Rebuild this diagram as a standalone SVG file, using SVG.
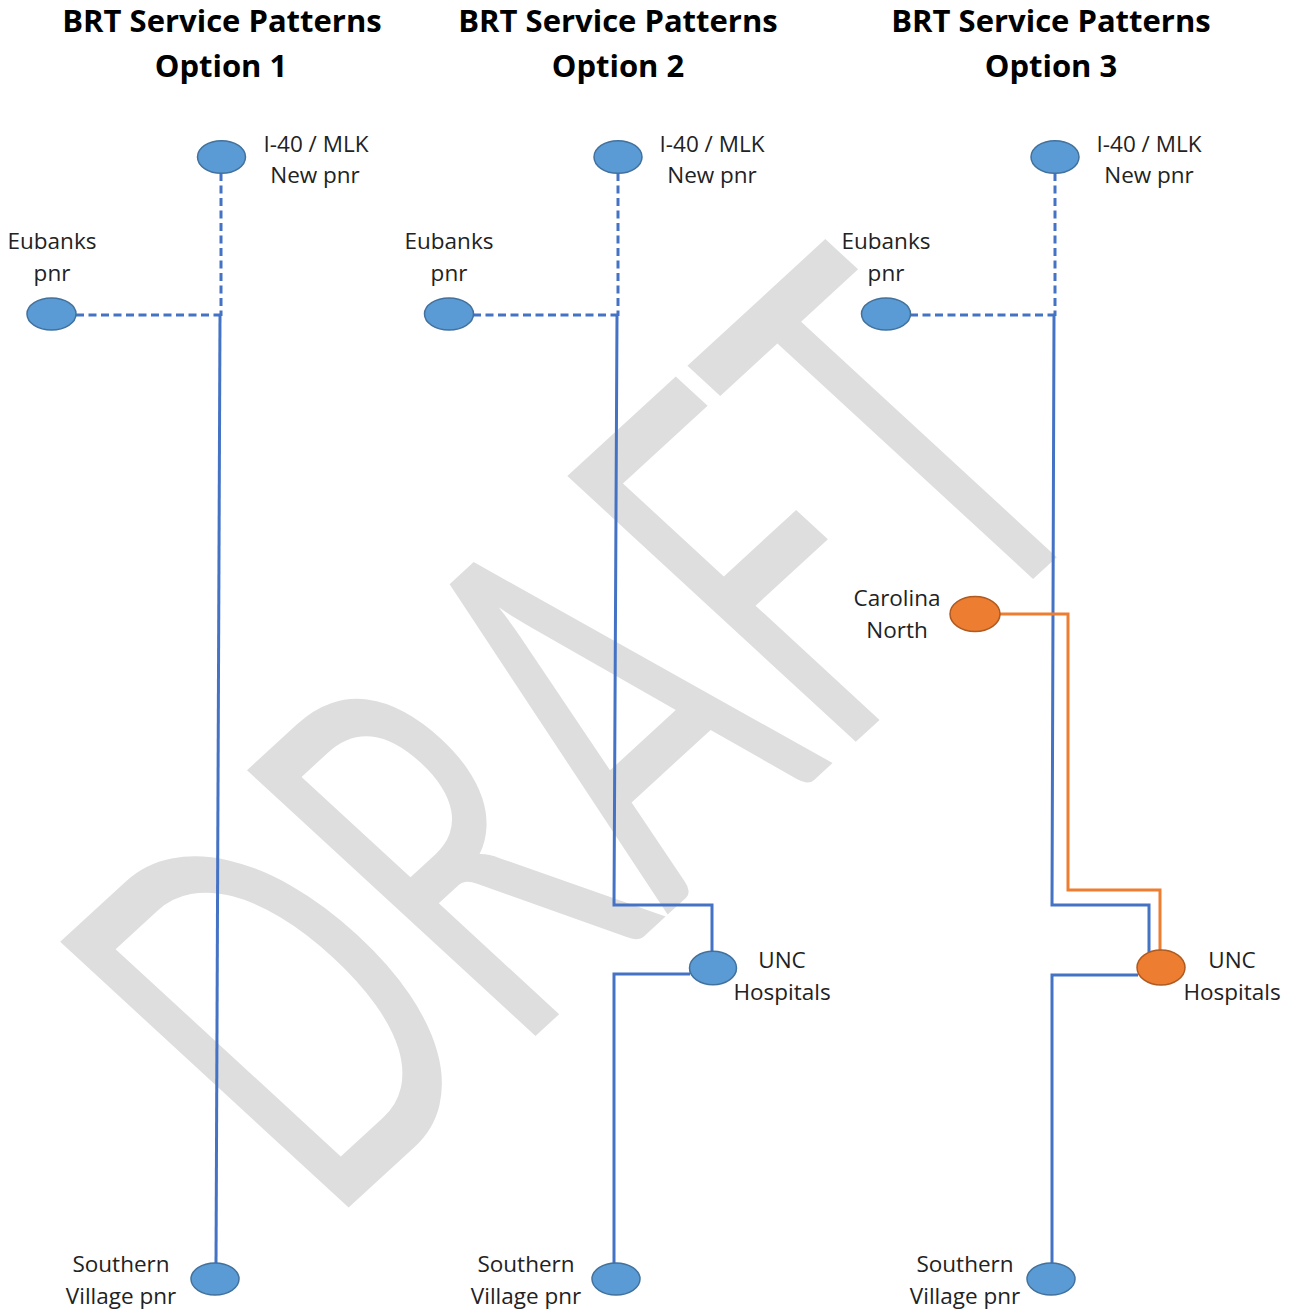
<svg xmlns="http://www.w3.org/2000/svg" width="1299" height="1313" viewBox="0 0 1299 1313">
<style>
.title{font-family:"Open Sans","Liberation Sans",sans-serif;font-weight:700;font-size:31px;fill:#000;text-anchor:middle}
.lbl{font-family:"Open Sans","Liberation Sans",sans-serif;font-size:22.5px;fill:#222;text-anchor:middle}
.blue{fill:#5b9bd5;stroke:#41719c;stroke-width:1.5}
.orange{fill:#ed7d31;stroke:#ae5a21;stroke-width:1.5}
.ln{fill:none;stroke:#4472c4;stroke-width:3}
.dash{fill:none;stroke:#4472c4;stroke-width:3;stroke-dasharray:8 4.5}
.oln{fill:none;stroke:#ed7d31;stroke-width:3}
.wm{font-family:Lato,"Open Sans",sans-serif;font-weight:400;fill:#dedede}
</style>
<rect width="1299" height="1313" fill="#fff"/>
<g id="watermark">
<text class="wm" transform="matrix(0.736 -0.676 0.736 0.678 346 1210)" x="-27" y="0" font-size="547" textLength="1075" lengthAdjust="spacingAndGlyphs">DRAFT</text>
</g>
<g id="titles">
<text class="title" x="222" y="32">BRT Service Patterns</text>
<text class="title" x="221" y="77">Option 1</text>
<text class="title" x="618" y="32">BRT Service Patterns</text>
<text class="title" x="618" y="77">Option 2</text>
<text class="title" x="1051" y="32">BRT Service Patterns</text>
<text class="title" x="1051" y="77">Option 3</text>
</g>
<g id="connectors">
<path class="dash" d="M221 173 V316"/>
<path class="dash" d="M76 315 H221"/>
<path class="ln" d="M220 316 L216 1264"/>
<path class="dash" d="M618 173 V316"/>
<path class="dash" d="M473 315 H618"/>
<path class="ln" d="M617 316 L614 905 H712 V951"/>
<path class="ln" d="M690 974 H614 V1264"/>
<path class="dash" d="M1055 173 V316"/>
<path class="dash" d="M910 315 H1055"/>
<path class="ln" d="M1054 316 L1052 905 H1149 V952"/>
<path class="ln" d="M1138 975 H1052 V1264"/>
<path class="oln" d="M1000 614 H1068 V890 H1160 V951"/>
</g>
<g id="opt1-i40"><ellipse class="blue" cx="221.5" cy="157" rx="24" ry="16.3"/><text class="lbl" x="316" y="152">I-40 / MLK</text><text class="lbl" x="315" y="183">New pnr</text></g>
<g id="opt1-eubanks"><ellipse class="blue" cx="51.5" cy="314" rx="24.5" ry="16"/><text class="lbl" x="52" y="249">Eubanks</text><text class="lbl" x="52" y="281">pnr</text></g>
<g id="opt1-southern"><ellipse class="blue" cx="215" cy="1279" rx="24" ry="16"/><text class="lbl" x="121" y="1272">Southern</text><text class="lbl" x="121" y="1304">Village pnr</text></g>
<g id="opt2-i40"><ellipse class="blue" cx="618" cy="157" rx="24" ry="16.3"/><text class="lbl" x="712" y="152">I-40 / MLK</text><text class="lbl" x="712" y="183">New pnr</text></g>
<g id="opt2-eubanks"><ellipse class="blue" cx="449" cy="314" rx="24.5" ry="16"/><text class="lbl" x="449" y="249">Eubanks</text><text class="lbl" x="449" y="281">pnr</text></g>
<g id="opt2-unc"><ellipse class="blue" cx="713" cy="968" rx="23.5" ry="16.7"/><text class="lbl" x="782" y="968">UNC</text><text class="lbl" x="782" y="1000">Hospitals</text></g>
<g id="opt2-southern"><ellipse class="blue" cx="616" cy="1279" rx="24" ry="16"/><text class="lbl" x="526" y="1272">Southern</text><text class="lbl" x="526" y="1304">Village pnr</text></g>
<g id="opt3-i40"><ellipse class="blue" cx="1055" cy="157" rx="24" ry="16.3"/><text class="lbl" x="1149" y="152">I-40 / MLK</text><text class="lbl" x="1149" y="183">New pnr</text></g>
<g id="opt3-eubanks"><ellipse class="blue" cx="886" cy="314" rx="24.5" ry="16"/><text class="lbl" x="886" y="249">Eubanks</text><text class="lbl" x="886" y="281">pnr</text></g>
<g id="opt3-carolina"><ellipse class="orange" cx="975" cy="614" rx="25" ry="17.5"/><text class="lbl" x="897" y="606">Carolina</text><text class="lbl" x="897" y="638">North</text></g>
<g id="opt3-unc"><ellipse class="orange" cx="1161" cy="967.5" rx="24" ry="17.5"/><text class="lbl" x="1232" y="968">UNC</text><text class="lbl" x="1232" y="1000">Hospitals</text></g>
<g id="opt3-southern"><ellipse class="blue" cx="1051" cy="1279" rx="24" ry="16"/><text class="lbl" x="965" y="1272">Southern</text><text class="lbl" x="965" y="1304">Village pnr</text></g>
</svg>
